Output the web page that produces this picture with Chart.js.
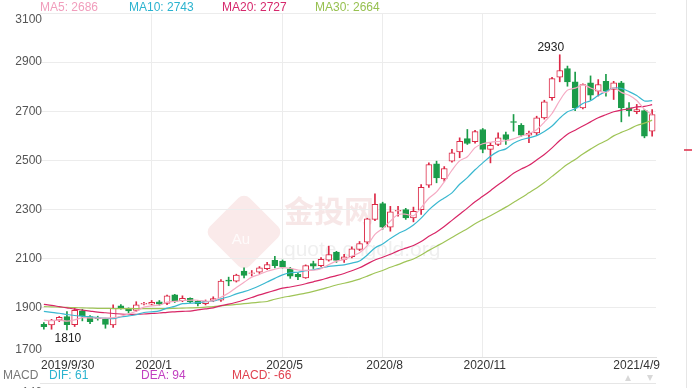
<!DOCTYPE html>
<html>
<head>
<meta charset="utf-8">
<script src="https://cdn.jsdelivr.net/npm/chart.js@4.4.1/dist/chart.umd.min.js"></script>
<style>
  html, body { margin: 0; padding: 0; background: #fff; }
  #wrap { width: 692px; height: 388px; position: relative; }
</style>
</head>
<body>
<div id="wrap"><canvas id="kline" width="692" height="388"></canvas></div>
<script>
// weekly candles, 2019/9/30 .. 2021/4/9
const dates = [
  '2019/9/30','2019/10/7','2019/10/14','2019/10/21','2019/10/28','2019/11/4','2019/11/11','2019/11/18','2019/11/25','2019/12/2',
  '2019/12/9','2019/12/16','2019/12/23','2019/12/30','2020/1/6','2020/1/13','2020/1/20','2020/1/27','2020/2/3','2020/2/10',
  '2020/2/17','2020/2/24','2020/3/2','2020/3/9','2020/3/16','2020/3/23','2020/3/30','2020/4/6','2020/4/13','2020/4/20',
  '2020/4/27','2020/5/4','2020/5/11','2020/5/18','2020/5/25','2020/6/1','2020/6/8','2020/6/15','2020/6/22','2020/6/29',
  '2020/7/6','2020/7/13','2020/7/20','2020/7/27','2020/8/3','2020/8/10','2020/8/17','2020/8/24','2020/8/31','2020/9/7',
  '2020/9/14','2020/9/21','2020/9/28','2020/10/5','2020/10/12','2020/10/19','2020/10/26','2020/11/2','2020/11/9','2020/11/16',
  '2020/11/23','2020/11/30','2020/12/7','2020/12/14','2020/12/21','2020/12/28','2021/1/4','2021/1/11','2021/1/18','2021/1/25',
  '2021/2/1','2021/2/8','2021/2/15','2021/2/22','2021/3/1','2021/3/8','2021/3/15','2021/3/22','2021/3/29','2021/4/9'
];
const opens = [
  1833,1831,1850,1864,1832,1888,1864,1858,1854,1831, 1908,1898,1890,1915,1915,1925,1918,1953,1929,1939,
  1928,1917,1930,1931,2013,2009,2050,2040,2045,2059, 2093,2090,2059,2036,2022,2080,2072,2094,2127,2097,
  2108,2138,2167,2260,2324,2228,2293,2300,2266,2300, 2399,2486,2425,2497,2535,2589,2576,2626,2545,2565,
  2605,2658,2643,2603,2612,2673,2755,2839,2874,2820, 2714,2816,2782,2822,2789,2816,2714,2698,2703,2619
];
const closes = [
  1823,1850,1861,1832,1890,1868,1844,1856,1833,1898, 1898,1888,1912,1918,1922,1915,1949,1926,1939,1925,
  1917,1927,1938,2009,2009,2033,2032,2043,2063,2076, 2072,2067,2029,2026,2072,2070,2097,2117,2093,2108,
  2140,2162,2262,2321,2228,2291,2297,2266,2293,2391, 2483,2429,2467,2531,2578,2569,2617,2545,2561,2592,
  2585,2655,2603,2610,2673,2738,2833,2866,2820,2714, 2809,2766,2809,2782,2816,2714,2703,2707,2599,2687
];
const highs = [
  1840,1853,1865,1885,1899,1894,1869,1866,1857,1912, 1913,1900,1925,1923,1930,1930,1952,1955,1949,1941,
  1930,1932,1945,2015,2025,2037,2063,2052,2068,2085, 2110,2095,2065,2043,2075,2090,2105,2151,2130,2118,
  2148,2170,2265,2364,2330,2313,2313,2305,2310,2402, 2490,2497,2475,2545,2592,2626,2622,2630,2572,2612,
  2615,2687,2650,2619,2680,2745,2838,2930,2884,2860, 2812,2844,2829,2850,2822,2822,2735,2728,2707,2707
];
const lows = [
  1813,1813,1844,1810,1824,1847,1836,1850,1817,1820, 1895,1880,1885,1912,1912,1910,1913,1922,1925,1920,
  1908,1912,1925,1926,1990,2005,2022,2030,2040,2055, 2063,2062,2020,2015,2020,2060,2068,2090,2085,2085,
  2103,2133,2160,2255,2220,2212,2273,2260,2250,2280, 2390,2409,2415,2493,2511,2565,2570,2531,2490,2560,
  2565,2619,2598,2572,2605,2668,2745,2820,2802,2703, 2710,2746,2762,2762,2748,2657,2680,2690,2592,2599
];
const ma5 = [
  1850,1848,1850,1846,1851,1860,1859,1858,1858,1860, 1866,1875,1886,1903,1908,1911,1923,1926,1930,1931,
  1931,1927,1929,1943,1960,1983,2004,2025,2036,2049, 2057,2064,2061,2054,2053,2053,2059,2076,2090,2097,
  2111,2124,2153,2199,2223,2253,2280,2281,2275,2308, 2346,2372,2413,2460,2498,2515,2552,2568,2574,2577,
  2580,2588,2599,2609,2625,2656,2691,2744,2786,2794, 2808,2795,2784,2776,2796,2777,2765,2744,2708,2686
];
const ma10 = [
  1886,1882,1878,1873,1869,1866,1863,1860,1858,1856, 1863,1867,1872,1881,1884,1888,1899,1906,1917,1919,
  1921,1925,1928,1937,1945,1957,1966,1977,1990,2005, 2020,2034,2043,2045,2051,2055,2062,2069,2072,2075,
  2082,2091,2115,2144,2160,2182,2202,2217,2237,2265, 2299,2326,2347,2368,2403,2430,2462,2490,2517,2537,
  2547,2570,2584,2592,2601,2618,2640,2672,2698,2710, 2732,2743,2764,2781,2795,2793,2780,2764,2742,2743
];
const ma20 = [
  1914,1910,1905,1900,1895,1891,1887,1883,1880,1877, 1875,1874,1874,1875,1877,1879,1882,1884,1886,1887,
  1892,1896,1900,1909,1915,1923,1932,1942,1953,1962, 1971,1980,1985,1991,1998,2006,2014,2023,2031,2040,
  2051,2063,2079,2095,2106,2118,2132,2143,2154,2170, 2191,2209,2231,2256,2281,2306,2332,2354,2377,2401,
  2423,2448,2465,2480,2502,2524,2551,2581,2607,2623, 2640,2657,2674,2686,2698,2705,2710,2718,2720,2727
];
const ma30 = [
  1905,1904,1903,1902,1901,1900,1899,1898,1898,1897, 1897,1897,1897,1897,1897,1897,1897,1898,1899,1900,
  1901,1903,1905,1908,1911,1914,1917,1920,1923,1926, 1935,1942,1948,1954,1960,1967,1975,1984,1993,2000,
  2008,2017,2029,2042,2052,2065,2076,2088,2099,2115, 2134,2151,2168,2186,2205,2222,2242,2259,2275,2292,
  2310,2329,2348,2368,2388,2410,2435,2460,2484,2504, 2526,2546,2565,2580,2600,2614,2627,2642,2652,2664
];
const yTicks = [1700, 1900, 2100, 2300, 2500, 2700, 2900, 3100];
const xTickIdx = [0, 14, 31, 44, 57, 79];
const xTickText = ['2019/9/30', '2020/1', '2020/5', '2020/8', '2020/11', '2021/4/9'];
const macdNames = ['DIF', 'DEA', 'MACD'];
const macdValues = [61, 94, -66];

const RED = '#dc2846';
const GREEN = '#1b9c49';
const FONT = '"Liberation Sans", Arial, sans-serif';

const up = opens.map((o, i) => closes[i] >= o);

const overlay = {
  id: 'overlay',
  beforeDraw(chart) {
    // faint watermark
    const ctx = chart.ctx;
    ctx.save();
    ctx.translate(244, 232);
    ctx.rotate(Math.PI / 4);
    ctx.fillStyle = 'rgba(230,160,160,0.22)';
    ctx.beginPath();
    ctx.roundRect(-28, -28, 56, 56, 8);
    ctx.fill();
    ctx.restore();
    ctx.save();
    ctx.fillStyle = 'rgba(255,255,255,0.8)';
    ctx.font = '15px ' + FONT;
    ctx.textAlign = 'center';
    ctx.textBaseline = 'middle';
    ctx.fillText('Au', 241, 240);
    ctx.fillStyle = 'rgba(225,170,170,0.28)';
    ctx.font = 'bold 30px "Noto Sans CJK SC", sans-serif';
    ctx.textAlign = 'left';
    ctx.fillText('金投网', 284, 211);
    ctx.fillStyle = 'rgba(180,180,180,0.22)';
    ctx.font = '21px ' + FONT;
    ctx.fillText('quote.cngold.org', 284, 250);
    ctx.restore();
  },
  afterDraw(chart) {
    const ctx = chart.ctx;
    const xs = chart.scales.x, ys = chart.scales.y;
    const area = chart.chartArea;
    ctx.save();
    ctx.font = '12px ' + FONT;

    // y labels
    ctx.fillStyle = '#555';
    ctx.textAlign = 'right';
    ctx.textBaseline = 'middle';
    yTicks.forEach(v => {
      let y = ys.getPixelForValue(v);
      y = Math.max(area.top + 7, Math.min(area.bottom - 7, y));
      ctx.fillText(String(v), 42, y);
    });

    // x labels
    ctx.fillStyle = '#333';
    ctx.textBaseline = 'middle';
    xTickIdx.forEach((idx, k) => {
      const x = xs.getPixelForValue(idx);
      if (k === 0) { ctx.textAlign = 'left'; ctx.fillText(xTickText[k], area.left + 1, 366); }
      else if (k === xTickIdx.length - 1) { ctx.textAlign = 'right'; ctx.fillText(xTickText[k], area.right + 4, 366); }
      else { ctx.textAlign = 'center'; ctx.fillText(xTickText[k], x + 2, 366); }
    });

    // max / min marks
    const hi = Math.max(...highs), lo = Math.min(...lows);
    const hiIdx = highs.indexOf(hi), loIdx = lows.indexOf(lo);
    ctx.fillStyle = '#222';
    ctx.textAlign = 'center';
    ctx.textBaseline = 'bottom';
    ctx.fillText(String(hi), xs.getPixelForValue(hiIdx) - 9, ys.getPixelForValue(hi) - 1);
    ctx.textBaseline = 'top';
    ctx.fillText(String(lo), xs.getPixelForValue(loIdx) + 1, ys.getPixelForValue(lo) + 3);

    // MA legend
    ctx.textAlign = 'left';
    ctx.textBaseline = 'middle';
    const leg = [['MA5', ma5, '#f19dbc', 40], ['MA10', ma10, '#2bb3cf', 129], ['MA20', ma20, '#d6286c', 222], ['MA30', ma30, '#97c150', 315]];
    leg.forEach(([n, arr, c, x]) => {
      ctx.fillStyle = c;
      ctx.fillText(n + ': ' + arr[arr.length - 1], x, 8);
    });

    // MACD header row
    ctx.fillStyle = '#777';
    ctx.fillText('MACD', 3, 376);
    const mcol = ['#2bb3cf', '#c13fc0', '#e0414f'];
    const mx = [49, 141, 232];
    macdNames.forEach((n, k) => {
      ctx.fillStyle = mcol[k];
      ctx.fillText(n + ': ' + macdValues[k], mx[k], 376);
    });
    ctx.fillStyle = '#666';
    ctx.textAlign = 'right';
    ctx.fillText('146', 42, 393);

    // frame bits on the right and below
    ctx.strokeStyle = '#e6e6e6';
    ctx.lineWidth = 1;
    ctx.beginPath();
    ctx.moveTo(686.5, 0); ctx.lineTo(686.5, 388);
    ctx.moveTo(area.left, 383.5); ctx.lineTo(area.right, 383.5);
    ctx.stroke();
    ctx.strokeStyle = RED;
    ctx.lineWidth = 1.5;
    ctx.beginPath();
    ctx.moveTo(684, 150); ctx.lineTo(692, 150);
    ctx.stroke();

    // up / down arrows
    ctx.fillStyle = '#d8d8d8';
    ctx.beginPath();
    ctx.moveTo(625, 381); ctx.lineTo(631, 381); ctx.lineTo(628, 375); ctx.closePath();
    ctx.moveTo(647, 375); ctx.lineTo(653, 375); ctx.lineTo(650, 381); ctx.closePath();
    ctx.fill();
    ctx.restore();
  }
};

const maLine = (label, data, color) => ({
  type: 'line', label, data,
  borderColor: color, borderWidth: 1.2,
  pointRadius: 0, tension: 0.3, fill: false, order: 0
});

const ctx = document.getElementById('kline').getContext('2d');
const chart = new Chart(ctx, {
  type: 'bar',
  data: {
    labels: dates,
    datasets: [
      maLine('MA5', ma5, '#f5aac3'),
      maLine('MA10', ma10, '#3ab8d0'),
      maLine('MA20', ma20, '#d82666'),
      maLine('MA30', ma30, '#9fc457'),
      {
        label: 'body',
        data: opens.map((o, i) => [o, closes[i]]),
        backgroundColor: up.map(u => u ? '#ffffff' : GREEN),
        borderColor: up.map(u => u ? RED : GREEN),
        borderWidth: 1,
        borderSkipped: false,
        barThickness: 6,
        grouped: false,
        order: 1
      },
      {
        label: 'wick',
        data: lows.map((l, i) => [l, highs[i]]),
        backgroundColor: up.map(u => u ? RED : GREEN),
        borderWidth: 0,
        barThickness: 1,
        grouped: false,
        order: 2
      }
    ]
  },
  options: {
    responsive: false,
    animation: false,
    devicePixelRatio: 1,
    layout: { padding: { left: 40, right: 36, top: 13, bottom: 31 } },
    plugins: { legend: { display: false }, tooltip: { enabled: false } },
    scales: {
      x: {
        offset: true,
        grid: {
          offset: false,
          drawTicks: false,
          color: (c) => xTickIdx.slice(1, -1).includes(c.index) ? '#ececec' : 'rgba(0,0,0,0)'
        },
        border: { display: true, color: '#dedede' },
        ticks: { display: false, autoSkip: false },
        afterFit: (s) => { s.height = 0; }
      },
      y: {
        min: 1700, max: 3100,
        ticks: { display: false, stepSize: 200 },
        grid: { color: '#ececec', drawTicks: false },
        border: { display: false },
        afterFit: (s) => { s.width = 0; }
      }
    }
  },
  plugins: [overlay]
});
</script>
</body>
</html>
